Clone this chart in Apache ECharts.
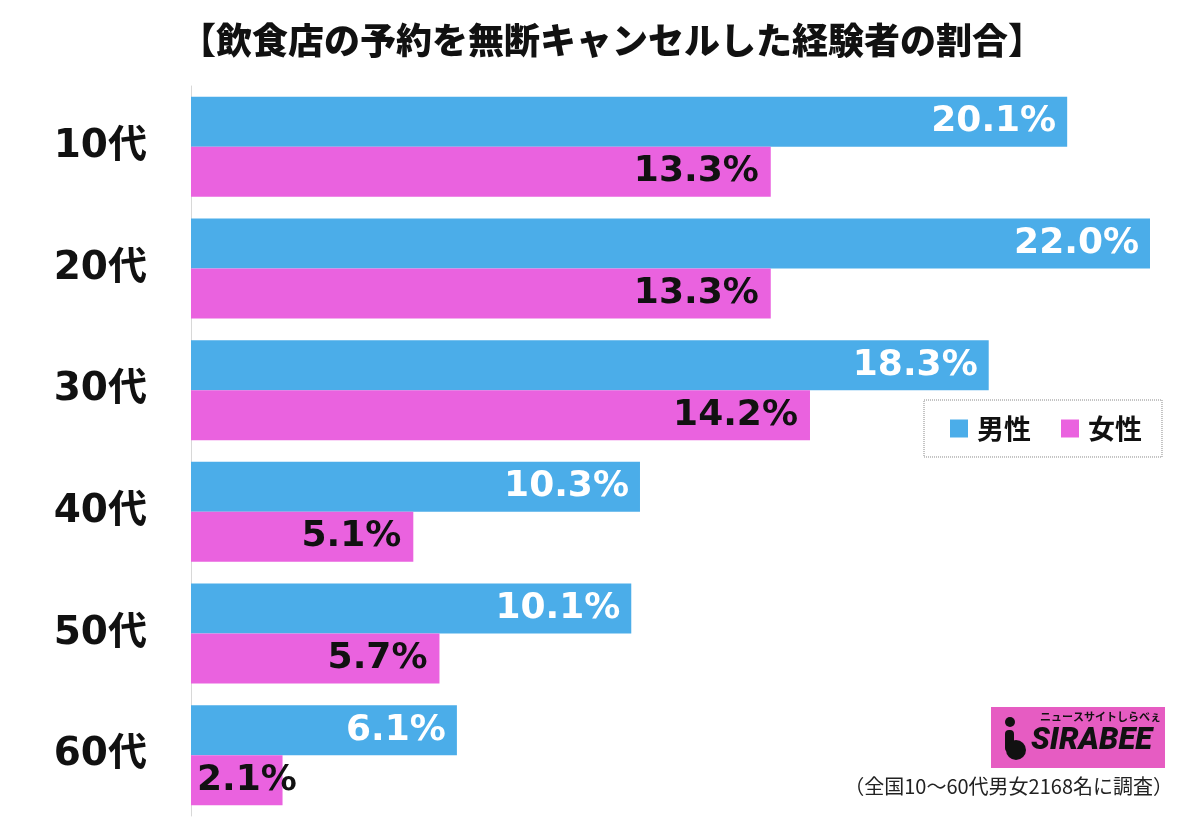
<!DOCTYPE html>
<html>
<head>
<meta charset="utf-8">
<script src="https://cdn.jsdelivr.net/npm/echarts@6/dist/echarts.min.js"></script>
<style>html,body{margin:0;padding:0;background:#fff}#c{width:1200px;height:821px}</style>
</head>
<body>
<div id="c"></div>
<script>
const categories = ['10代', '20代', '30代', '40代', '50代', '60代'];
const male = [20.1, 22.0, 18.3, 10.3, 10.1, 6.1];
const female = [13.3, 13.3, 14.2, 5.1, 5.7, 2.1];
const seriesNames = ['男性', '女性'];
const titleText = '【飲食店の予約を無断キャンセルした経験者の割合】';
const noteText = '（全国10〜60代男女2168名に調査）';

const BLUE = '#4BADE9';
const PINK = '#EA62DF';
const labelFont = '"DejaVu Sans", sans-serif';

const chart = echarts.init(document.getElementById('c'), null, {renderer: 'canvas'});

function makeData(arr, isFemale) {
  return arr.map(v => {
    const d = {value: v};
    if (isFemale && v < 3) {
      d.label = {position: 'insideLeft', distance: 6};
    }
    return d;
  });
}

chart.setOption({
  animation: false,
  backgroundColor: '#fff',
  title: {
    text: titleText,
    left: 607, top: 17, textAlign: 'center',
    textStyle: {fontSize: 36, fontWeight: 900, color: '#111', fontFamily: '"Noto Sans CJK JP", sans-serif'}
  },
  legend: {
    left: 924, top: 400,
    orient: 'horizontal',
    padding: [15, 20, 15, 26],
    itemGap: 30,
    itemWidth: 18, itemHeight: 18,
    icon: 'rect',
    borderColor: '#888', borderWidth: 1, borderType: 'dotted',
    textStyle: {fontSize: 27, fontWeight: 'bold', color: '#111', fontFamily: '"Noto Sans CJK JP", sans-serif', padding: [0, 0, 0, 4]},
    data: seriesNames
  },
  grid: {left: 191, right: 50, top: 86, bottom: 5},
  xAxis: {
    type: 'value', min: 0, max: 22, show: false
  },
  yAxis: {
    type: 'category', data: categories, inverse: true,
    axisLine: {show: true, lineStyle: {color: '#d8d8d8', width: 1}},
    axisTick: {show: false},
    axisLabel: {
      margin: 44, fontSize: 39, fontWeight: 'bold', color: '#111',
      fontFamily: '"DejaVu Sans", "Noto Sans CJK JP", sans-serif'
    }
  },
  series: [
    {
      name: seriesNames[0], type: 'bar', data: makeData(male, false),
      barWidth: 50, barGap: '0%',
      itemStyle: {color: BLUE},
      label: {
        show: true, position: 'insideRight', distance: 11,
        formatter: p => p.value.toFixed(1) + '%',
        color: '#fff', fontSize: 36, fontWeight: 'bold', fontFamily: labelFont
      }
    },
    {
      name: seriesNames[1], type: 'bar', data: makeData(female, true),
      barWidth: 50, barGap: '0%',
      itemStyle: {color: PINK},
      label: {
        show: true, position: 'insideRight', distance: 12,
        formatter: p => p.value.toFixed(1) + '%',
        color: '#111', fontSize: 36, fontWeight: 'bold', fontFamily: labelFont
      }
    }
  ],
  graphic: [
    {type: 'rect', shape: {x: 991, y: 707, width: 174, height: 61}, style: {fill: '#E65CC2'}},
    {type: 'circle', shape: {cx: 1010, cy: 722, r: 5}, style: {fill: '#111'}},
    {type: 'rect', shape: {x: 1005, y: 730, width: 9, height: 22, r: 4}, style: {fill: '#111'}},
    {type: 'circle', shape: {cx: 1016, cy: 750, r: 10}, style: {fill: '#111'}},
    {type: 'text', style: {x: 1040, y: 711, text: 'ニュースサイトしらべぇ', fontSize: 11, fontWeight: 'bold', fill: '#111', fontFamily: '"Noto Sans CJK JP", sans-serif'}},
    {type: 'text', style: {x: 1031, y: 726, text: 'SIRABEE', fontSize: 31, fontWeight: 900, fontStyle: 'italic', fill: '#111', fontFamily: 'Roboto, "Noto Sans", sans-serif'}},
    {type: 'text', style: {x: 1173, y: 776, text: noteText, align: 'right', fontSize: 20, fill: '#222', fontFamily: '"Noto Sans CJK JP", sans-serif'}}
  ]
});
</script>
</body>
</html>
